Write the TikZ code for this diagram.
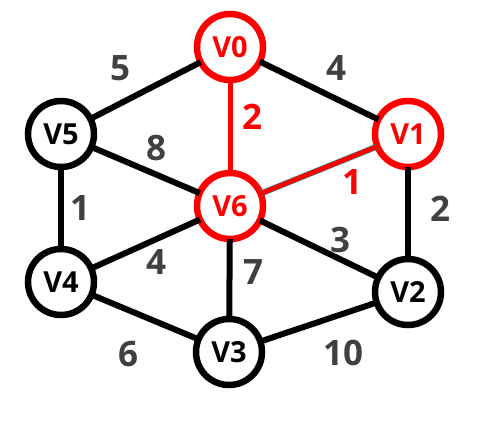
\documentclass[tikz,border=0pt]{standalone}
\usepackage{fontspec}
\setmainfont{Open Sans}
\usetikzlibrary{positioning}

\begin{document}
\begin{tikzpicture}[
  x=1pt, y=-1pt,
  vtx/.style={draw, circle, line width=6.5pt, fill=white, minimum size=66pt, inner sep=0pt, outer sep=0pt, font=\fontsize{29}{32}\selectfont\bfseries},
  hot/.style={draw=red, text=red},
  edge/.style={line width=6pt},
  wt/.style={font=\fontsize{35}{38}\selectfont\bfseries, text=black!75},
  hotwt/.style={font=\fontsize{35}{38}\selectfont\bfseries, text=red}
]
\useasboundingbox (0,0) rectangle (493,421);
\node[vtx, hot] (v0) at (230,47) {V0};
\node[vtx, hot] (v1) at (408,134) {V1};
\node[vtx] (v2) at (408,292) {V2};
\node[vtx] (v3) at (229,352) {V3};
\node[vtx] (v4) at (61,282) {V4};
\node[vtx] (v5) at (61,134) {V5};
\node[vtx, hot] (v6) at (230,206) {V6};

\draw[edge] (v0) -- (v1);
\draw[edge] (v0) -- (v5);
\draw[edge] (v5) -- (v6);
\draw[edge] (v5) -- (v4);
\draw[edge] (v4) -- (v6);
\draw[edge] (v4) -- (v3);
\draw[edge] (v6) -- (v3);
\draw[edge] (v6) -- (v2);
\draw[edge] (v3) -- (v2);
\draw[edge] (v1) -- (v2);
\draw[edge, red, line width=5pt] (v0) -- (v6);
\draw[line width=0.7pt, draw=teal!60!gray, double=red, double distance=4.5pt] (v6) -- (v1);

% weights
\node[wt] (w05) at (120,68) {5};
\node[wt] (w01) at (336,68) {4};
\node[hotwt] (w06) at (252,117) {2};
\node[wt] (w56) at (156,148) {8};
\node[hotwt] (w61) at (352,182) {1};
\node[wt] (w54) at (80,208) {1};
\node[wt] (w12) at (440,209) {2};
\node[wt] (w62) at (340,240) {3};
\node[wt] (w46) at (156,262) {4};
\node[wt] (w63) at (253,272) {7};
\node[wt] (w43) at (128,354) {6};
\node[wt] (w32) at (343,353) {10};
\end{tikzpicture}
\end{document}
